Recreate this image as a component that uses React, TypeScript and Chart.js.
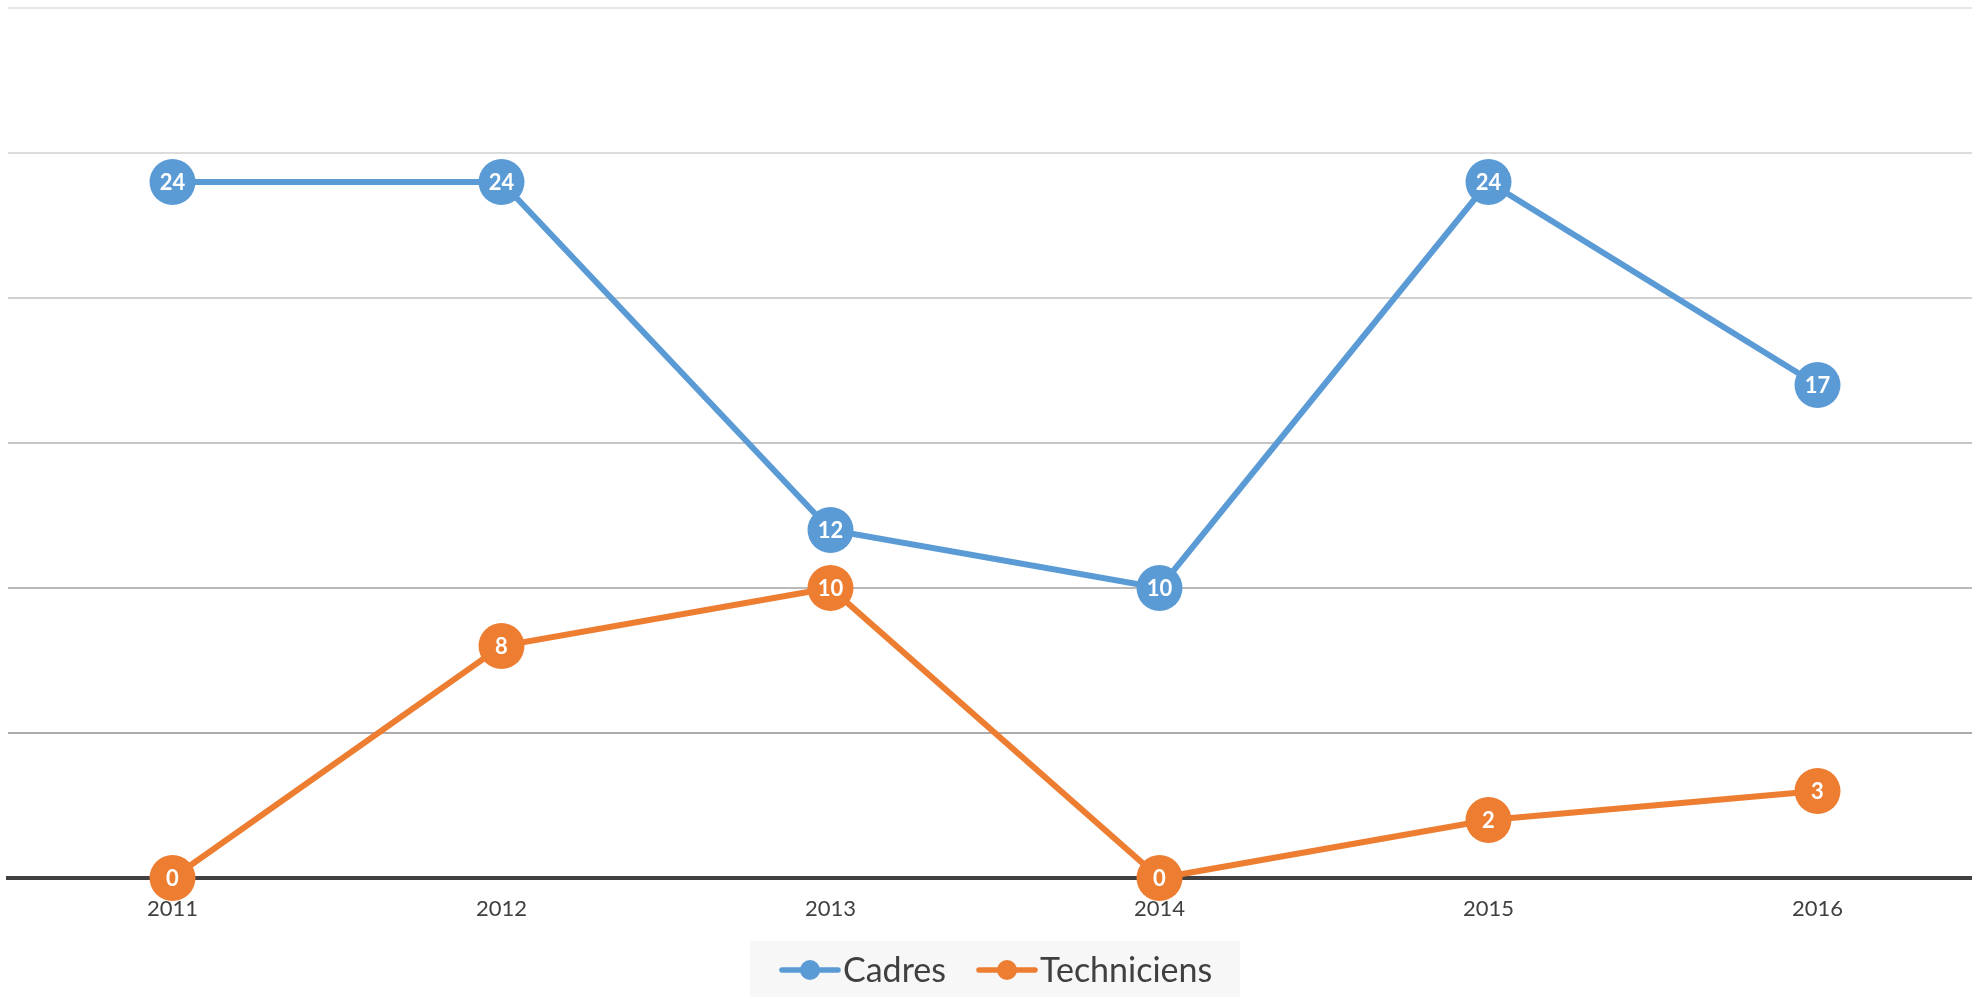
import { useEffect, useRef } from "react";
import { Chart, registerables } from "chart.js";

Chart.register(...registerables);

const years = ["2011", "2012", "2013", "2014", "2015", "2016"];
const cadres = [24, 24, 12, 10, 24, 17];
const techniciens = [0, 8, 10, 0, 2, 3];
const seriesNames = ["Cadres", "Techniciens"];
const seriesColors = ["#5B9BD5", "#ED7D31"];
const yMin = 0;
const yMax = 30;
const yStep = 5;

const FONT = "Lato, 'Open Sans', sans-serif";

const gridColorFor = (v: number) => {
  const shades: Record<number, string> = {
    30: "#e6e6e6",
    25: "#dcdcdc",
    20: "#d1d1d1",
    15: "#c6c6c6",
    10: "#bababa",
    5: "#ababab",
  };
  return shades[v] || "rgba(0,0,0,0)";
};

const valueLabels = {
  id: "valueLabels",
  afterDatasetsDraw(chart: any) {
    const ctx = chart.ctx;
    ctx.save();
    ctx.fillStyle = "#ffffff";
    ctx.font = `bold 22px ${FONT}`;
    ctx.textAlign = "center";
    ctx.textBaseline = "middle";
    chart.data.datasets.forEach((ds: any, i: number) => {
      const meta = chart.getDatasetMeta(i);
      meta.data.forEach((pt: any, j: number) => {
        ctx.fillText(String(ds.data[j]), pt.x, pt.y + 1);
      });
    });
    ctx.restore();
  },
};

const lineLegend = {
  id: "lineLegend",
  afterDraw(chart: any) {
    const ctx = chart.ctx;
    ctx.save();
    const boxX = 750;
    const boxY = 941;
    const boxW = 490;
    const boxH = 60;
    ctx.fillStyle = "#f7f7f7";
    ctx.fillRect(boxX, boxY, boxW, boxH);
    ctx.font = `34px ${FONT}`;
    ctx.textBaseline = "middle";
    ctx.textAlign = "left";
    const cy = 970;
    let x = 782;
    chart.data.datasets.forEach((ds: any) => {
      ctx.strokeStyle = ds.borderColor;
      ctx.lineWidth = 5.5;
      ctx.lineCap = "round";
      ctx.beginPath();
      ctx.moveTo(x, cy);
      ctx.lineTo(x + 56, cy);
      ctx.stroke();
      ctx.fillStyle = ds.borderColor;
      ctx.beginPath();
      ctx.arc(x + 28, cy, 10, 0, Math.PI * 2);
      ctx.fill();
      ctx.fillStyle = "#404040";
      ctx.fillText(ds.label, x + 61, cy + 1);
      const w = ctx.measureText(ds.label).width;
      x = x + 61 + w + 33;
    });
    ctx.restore();
  },
};

export default function App() {
  const ref = useRef<HTMLCanvasElement | null>(null);

  useEffect(() => {
    if (!ref.current) return;
    const chart = new Chart(ref.current, {
      type: "line",
      data: {
        labels: years,
        datasets: [cadres, techniciens].map((d, i) => ({
          label: seriesNames[i],
          data: d,
          borderColor: seriesColors[i],
          backgroundColor: seriesColors[i],
          borderWidth: 6,
          pointRadius: 23,
          pointHoverRadius: 23,
          pointBackgroundColor: seriesColors[i],
          pointBorderWidth: 0,
          tension: 0,
          fill: false,
          clip: false as any,
        })),
      },
      options: {
        responsive: false,
        animation: false,
        devicePixelRatio: 1,
        layout: {
          autoPadding: false,
          padding: { left: 8, top: 8, right: 0, bottom: 75 },
        },
        plugins: {
          legend: { display: false },
          tooltip: { enabled: false },
        },
        scales: {
          x: {
            offset: true,
            grid: { display: false, drawTicks: false },
            border: { display: true, color: "#404040", width: 4 },
            ticks: {
              color: "#404040",
              font: { family: FONT, size: 22 },
              padding: 18,
              maxRotation: 0,
            },
            afterFit: (s: any) => {
              s.height = 44;
            },
          },
          y: {
            min: yMin,
            max: yMax,
            ticks: { display: false, stepSize: yStep },
            grid: {
              drawTicks: false,
              lineWidth: 2,
              color: (c: any) => gridColorFor(c.tick ? c.tick.value : -1),
            },
            border: { display: false },
            afterFit: (s: any) => {
              s.width = 0;
            },
          },
        },
      },
      plugins: [valueLabels, lineLegend],
    });
    return () => chart.destroy();
  }, []);

  return (
    <div
      style={{
        position: "fixed",
        left: 0,
        top: 0,
        width: 1972,
        height: 997,
        overflow: "hidden",
        background: "#ffffff",
      }}
    >
      <canvas ref={ref} width={1982} height={997} style={{ display: "block" }} />
    </div>
  );
}
